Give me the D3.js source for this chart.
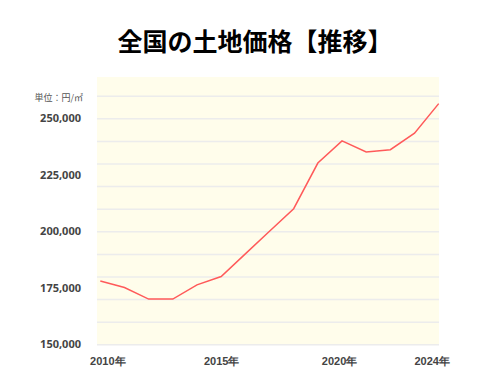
<!DOCTYPE html>
<html>
<head>
<meta charset="utf-8">
<script src="https://cdn.jsdelivr.net/npm/d3@7"></script>
<style>
  body { margin: 0; background: #fff; }
  svg { font-family: "Noto Sans CJK JP", "Noto Sans", sans-serif; }
</style>
</head>
<body>
<script>
var years = [2010, 2011, 2012, 2013, 2014, 2015, 2016, 2017, 2018, 2019, 2020, 2021, 2022, 2023, 2024];
var prices = [178000, 175100, 170000, 170000, 176300, 180000, 190000, 200000, 210000, 230200, 240000, 235100, 236100, 243400, 256500];
var yTicks = [150000, 175000, 200000, 225000, 250000];
var xTicks = [2010, 2015, 2020, 2024];

var svg = d3.select('body').append('svg')
  .attr('width', 500)
  .attr('height', 385);

var plot = { left: 97, right: 439, top: 77, bottom: 345 };

var x = d3.scaleLinear().domain([2010, 2024]).range([100.3, 438.7]);
var y = d3.scaleLinear().domain([150000, 260000]).range([344.3, 95.7]);

// title
svg.append('text')
  .attr('x', 255)
  .attr('y', 42)
  .attr('dy', '0.35em')
  .style('text-anchor', 'middle')
  .style('font-size', '25px')
  .style('font-weight', 'bold')
  .attr('fill', '#000')
  .text('全国の土地価格【推移】');

// plot background
svg.append('rect')
  .attr('x', plot.left)
  .attr('y', plot.top)
  .attr('width', plot.right - plot.left)
  .attr('height', plot.bottom - plot.top)
  .attr('fill', '#fffdeb');

// gridlines every 10,000
var grid = svg.append('g')
  .attr('transform', 'translate(' + plot.left + ',0)')
  .call(d3.axisLeft(y)
    .tickValues(d3.range(150000, 260001, 10000))
    .tickSize(-(plot.right - plot.left))
    .tickFormat(''));
grid.select('.domain').remove();
grid.selectAll('line').attr('stroke', '#ececec').attr('stroke-width', 1.5);

// y axis labels
var yAxis = svg.append('g')
  .attr('transform', 'translate(81,0)')
  .call(d3.axisLeft(y)
    .tickValues(yTicks)
    .tickSize(0)
    .tickPadding(0)
    .tickFormat(d3.format(',')));
yAxis.select('.domain').remove();
yAxis.selectAll('text')
  .style('font-size', '11px')
  .style('font-weight', 'bold')
  .style('font-family', '"Noto Sans", sans-serif')
  .attr('fill', '#444');

svg.append('text')
  .attr('x', 83)
  .attr('y', 98)
  .attr('dy', '0.35em')
  .style('text-anchor', 'end')
  .style('font-size', '9px')
  .attr('fill', '#555')
  .text('単位：円/㎡');

// x axis labels
var xAxis = svg.append('g')
  .attr('transform', 'translate(0,357)')
  .call(d3.axisBottom(x)
    .tickValues(xTicks)
    .tickSize(0)
    .tickPadding(0)
    .tickFormat(function(d) { return d + '年'; }));
xAxis.select('.domain').remove();
xAxis.selectAll('text')
  .style('font-size', '11px')
  .style('font-weight', 'bold')
  .attr('fill', '#444')
  .attr('dx', function(d) { return d === 2010 ? 7 : d === 2024 ? -7 : d === 2020 ? -3 : 0; });

// line
var line = d3.line()
  .x(function(d, i) { return x(years[i]); })
  .y(function(d) { return y(d); });

svg.append('path')
  .datum(prices)
  .attr('d', line)
  .attr('fill', 'none')
  .attr('stroke', '#ff5a5a')
  .attr('stroke-width', 1.5);
</script>
</body>
</html>
